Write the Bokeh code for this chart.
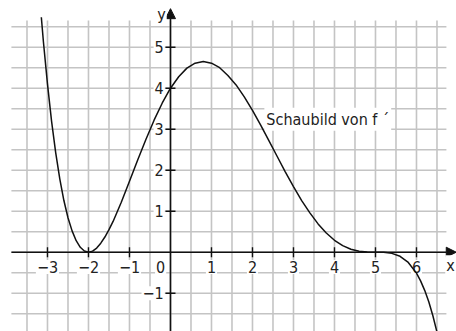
import numpy as np
from bokeh.plotting import figure
from bokeh.models import Label, Arrow, NormalHead, ColumnDataSource
from bokeh.embed import file_html
from bokeh.resources import INLINE

# curve of f'
curve_x = [-3.15, -3.1, -3.0, -2.9, -2.8, -2.7, -2.6, -2.5, -2.4, -2.3, -2.2, -2.1, -2.0,
           -1.9, -1.8, -1.7, -1.6, -1.5, -1.4, -1.2, -1.0, -0.8, -0.6, -0.4, -0.2, 0.0,
           0.2, 0.4, 0.6, 0.8, 1.0, 1.2, 1.4, 1.6, 1.8, 2.0, 2.2, 2.4, 2.6, 2.8, 3.0,
           3.2, 3.4, 3.6, 3.8, 4.0, 4.2, 4.4, 4.6, 4.8, 5.0, 5.2, 5.4, 5.6, 5.8, 6.0,
           6.1, 6.2, 6.3, 6.4, 6.5]
curve_y = [5.73, 5.14, 4.10, 3.19, 2.43, 1.79, 1.26, 0.84, 0.52, 0.28, 0.12, 0.029, 0.0,
           0.026, 0.10, 0.22, 0.37, 0.55, 0.75, 1.22, 1.73, 2.25, 2.75, 3.22, 3.64, 4.00,
           4.28, 4.49, 4.61, 4.65, 4.61, 4.50, 4.31, 4.08, 3.79, 3.46, 3.10, 2.72, 2.34, 1.96, 1.60,
           1.26, 0.96, 0.69, 0.47, 0.29, 0.16, 0.071, 0.022, 0.003, 0.0, -0.003, -0.028, -0.10, -0.25, -0.51,
           -0.70, -0.93, -1.21, -1.55, -1.95]

x_ticks = [-3, -2, -1, 1, 2, 3, 4, 5, 6]
x_tick_labels = ["\u22123", "\u22122", "\u22121", "1", "2", "3", "4", "5", "6"]
y_ticks = [-1, 1, 2, 3, 4, 5]
y_tick_labels = ["\u22121", "1", "2", "3", "4", "5"]
curve_label = "Schaubild von f \u00b4"

FONT = "DejaVu Sans Condensed"
FS = "16px"

XR = (-4.146, 6.976)
YR = (-1.934, 6.139)

p = figure(width=456, height=331, x_range=XR, y_range=YR,
           output_backend="svg", toolbar_location=None, min_border=0)
p.xaxis.visible = False
p.yaxis.visible = False
p.grid.visible = False
p.outline_line_color = None

grid_color = "#c4c4c4"
gx_left, gx_right = -3.88, 6.73
gy_top, gy_bot = 5.65, YR[0]
vx = np.arange(-3.5, 6.51, 0.5)
hy = np.arange(-1.5, 5.51, 0.5)
p.segment(x0=vx, y0=gy_bot, x1=vx, y1=gy_top, line_color=grid_color, line_width=1.6)
p.segment(x0=gx_left, y0=hy, x1=gx_right, y1=hy, line_color=grid_color, line_width=1.6)

# axes with arrows
p.add_layout(Arrow(x_start=gx_left, y_start=0, x_end=6.97, y_end=0, line_width=1.6,
                   line_color="#111111",
                   end=NormalHead(size=10, fill_color="#111111", line_color="#111111", line_width=1)))
p.add_layout(Arrow(x_start=0, y_start=YR[0], x_end=0, y_end=5.94, line_width=1.6,
                   line_color="#111111",
                   end=NormalHead(size=10, fill_color="#111111", line_color="#111111", line_width=1)))

tk = 5 / 41.0
p.segment(x0=x_ticks, y0=-tk, x1=x_ticks, y1=tk, line_color="#111111", line_width=1.4)
p.segment(x0=-tk, y0=y_ticks, x1=tk, y1=y_ticks, line_color="#111111", line_width=1.4)

for xv, lab in zip(x_ticks, x_tick_labels):
    p.add_layout(Label(x=xv, y=-0.36, text=lab, text_align="center", text_baseline="middle",
                       text_font=FONT, text_font_size=FS, text_color="#222222",
                       background_fill_color="white", padding=1))
p.add_layout(Label(x=-0.24, y=-0.36, text="0", text_align="center", text_baseline="middle",
                   text_font=FONT, text_font_size=FS, text_color="#222222",
                   background_fill_color="white", padding=1))
for yv, lab in zip(y_ticks, y_tick_labels):
    p.add_layout(Label(x=-0.14, y=yv, text=lab, text_align="right", text_baseline="middle",
                       text_font=FONT, text_font_size=FS, text_color="#222222",
                       background_fill_color="white", padding=1))

p.add_layout(Label(x=-0.22, y=5.8, text="y", text_align="center", text_baseline="middle",
                   text_font=FONT, text_font_size=FS, text_color="#222222",
                   background_fill_color="white", padding=1))
p.add_layout(Label(x=6.83, y=-0.33, text="x", text_align="center", text_baseline="middle",
                   text_font=FONT, text_font_size=FS, text_color="#222222",
                   background_fill_color="white", padding=1))

p.add_layout(Label(x=2.29, y=3.24, text=curve_label, text_align="left", text_baseline="middle",
                   text_font=FONT, text_font_size=FS, text_color="#222222",
                   background_fill_color="white", padding=2))

src = ColumnDataSource(dict(x=curve_x, y=curve_y))
r = p.line("x", "y", source=src, line_color="#111111", line_width=1.5)
r.level = "overlay"

open("out.html", "w").write(file_html(p, INLINE))
